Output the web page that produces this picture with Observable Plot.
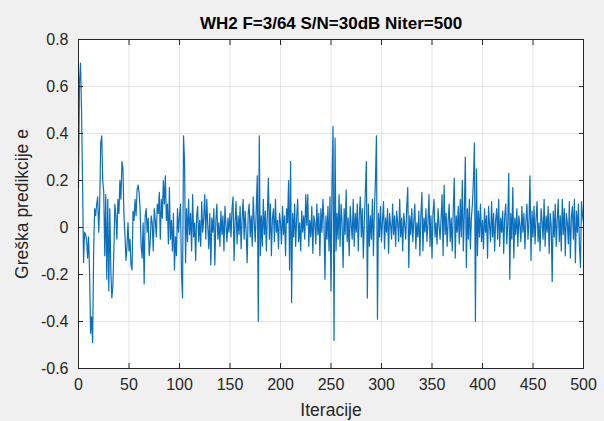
<!DOCTYPE html>
<html><head><meta charset="utf-8">
<script src="https://cdn.jsdelivr.net/npm/d3@7"></script>
<script src="https://cdn.jsdelivr.net/npm/@observablehq/plot@0.6"></script>
<style>
html,body{margin:0;padding:0;background:#f0f0f0;}
#chart{width:604px;height:421px;}
</style>
</head><body><div id="chart"></div>
<script>
const title = "WH2 F=3/64 S/N=30dB Niter=500";
const xLabel = "Iteracije";
const yLabel = "Greška predikcije e";
const xTicks = [0, 50, 100, 150, 200, 250, 300, 350, 400, 450, 500];
const yTicks = [-0.6, -0.4, -0.2, 0, 0.2, 0.4, 0.6, 0.8];
const errors = [
0.17, 0.62, 0.70, 0.50, 0.20, -0.15, -0.02, -0.03, -0.05, -0.13,
-0.04, -0.20, -0.45, -0.38, -0.49, -0.10, 0.08, 0.05, 0.10, 0.13,
-0.02, 0.10, 0.36, 0.39, 0.20, 0.15, -0.12, 0.14, -0.22, 0.12,
-0.27, 0.08, -0.18, -0.30, -0.25, -0.10, 0.10, 0.05, -0.05, 0.12,
0.06, 0.20, 0.12, 0.28, 0.25, 0.05, -0.03, -0.14, -0.08, 0.02,
-0.10, -0.05, -0.16, -0.18, 0.07, 0.03, 0.12, 0.05, 0.16, 0.18,
0.15, 0.08, -0.08, -0.13, 0.02, -0.24, 0.05, 0.08, -0.02, 0.04,
-0.12, -0.06, 0.05, 0.02, -0.10, 0.08, 0.03, -0.04, 0.10, 0.06,
0.15, -0.05, 0.12, 0.04, 0.20, 0.10, 0.22, 0.03, 0.10, -0.07,
0.17, -0.05, 0.03, -0.10, 0.06, -0.18, -0.04, -0.12, 0.08, -0.02,
0.05, 0.10, -0.20, -0.30, 0.39, 0.28, -0.15, 0.08, -0.06, 0.12,
-0.03, 0.06, -0.10, 0.14, -0.04, 0.02, -0.14, 0.05, 0.09, -0.06,
0.03, -0.08, 0.11, -0.02, 0.04, 0.14, -0.05, 0.12, 0.01, -0.09,
0.06, -0.16, 0.04, -0.02, 0.08, -0.16, 0.03, 0.10, -0.05, 0.02,
-0.08, 0.07, -0.03, 0.05, -0.10, 0.09, 0.01, -0.06, 0.04, -0.02,
0.06, -0.04, 0.08, 0.13, -0.14, 0.02, 0.11, -0.07, 0.05, -0.03,
0.09, -0.09, 0.04, 0.12, -0.05, 0.07, -0.02, -0.15, 0.06, 0.10,
-0.04, 0.05, -0.08, 0.13, 0.02, -0.06, 0.08, 0.22, -0.40, 0.39,
-0.12, 0.05, -0.08, 0.12, -0.03, 0.07, -0.10, 0.06, 0.21, -0.05,
0.10, -0.12, 0.04, 0.08, -0.06, 0.12, -0.02, 0.03, -0.09, 0.06,
0.02, -0.07, 0.09, -0.03, 0.05, -0.12, 0.08, 0.02, 0.20, -0.18,
0.28, -0.32, 0.06, -0.04, 0.10, -0.08, 0.04, 0.12, -0.06, 0.02,
-0.10, 0.07, -0.02, 0.05, -0.05, 0.14, 0.01, 0.14, -0.08, 0.03,
-0.04, 0.09, -0.11, 0.05, 0.02, -0.07, 0.10, -0.03, 0.06, -0.12,
0.08, -0.02, 0.12, 0.03, -0.22, 0.05, -0.05, 0.09, -0.10, 0.13,
-0.27, 0.18, 0.43, -0.48, 0.38, -0.10, 0.06, -0.05, 0.14, -0.08,
0.10, 0.02, -0.17, 0.08, -0.03, 0.16, -0.06, 0.04, -0.12, 0.09,
0.01, -0.05, 0.12, -0.08, 0.06, -0.02, 0.10, -0.10, 0.05, 0.13,
-0.04, 0.08, -0.13, 0.03, 0.15, 0.28, -0.30, 0.10, -0.08, 0.05,
-0.05, 0.12, -0.12, 0.08, 0.20, 0.39, -0.39, 0.06, -0.04, 0.09,
-0.06, 0.03, 0.11, -0.09, 0.04, -0.02, 0.08, -0.11, 0.06, 0.01,
-0.05, 0.10, -0.03, 0.05, -0.08, 0.07, 0.02, -0.06, 0.12, -0.04,
0.04, -0.10, 0.06, 0.01, -0.05, 0.09, 0.17, -0.17, 0.05, -0.03,
0.08, -0.06, 0.03, 0.10, -0.09, 0.02, -0.04, 0.07, -0.12, 0.05,
0.15, -0.10, 0.04, -0.02, 0.08, -0.06, 0.02, 0.14, -0.08, 0.05,
-0.13, 0.06, 0.12, -0.04, 0.02, -0.07, 0.08, 0.01, -0.05, 0.04,
0.14, -0.12, 0.18, -0.03, 0.06, -0.08, 0.03, 0.10, -0.06, 0.04,
-0.10, 0.07, 0.21, -0.13, 0.05, -0.02, 0.09, -0.07, 0.12, -0.04,
0.20, -0.10, 0.06, 0.30, -0.17, 0.08, -0.05, 0.12, -0.09, 0.04,
0.10, 0.20, 0.36, -0.40, 0.25, -0.12, 0.07, -0.04, 0.10, -0.06,
0.03, -0.09, 0.08, -0.02, 0.05, -0.13, 0.09, 0.01, -0.06, 0.11,
-0.04, 0.06, -0.10, 0.03, 0.08, -0.05, 0.12, -0.08, 0.04, -0.02,
0.07, -0.11, 0.05, 0.10, -0.07, 0.02, 0.23, -0.22, 0.06, -0.05,
0.17, -0.13, 0.04, -0.03, 0.08, -0.08, 0.05, 0.01, -0.06, 0.09,
-0.02, 0.06, -0.09, 0.03, 0.10, -0.05, 0.02, 0.22, -0.14, 0.07,
-0.04, 0.09, -0.07, 0.04, 0.11, -0.06, 0.02, -0.10, 0.08, 0.03,
-0.05, 0.12, -0.08, 0.05, -0.02, 0.09, -0.11, 0.06, 0.01, -0.23,
0.07, -0.04, 0.10, -0.08, 0.03, 0.12, -0.06, 0.05, -0.10, 0.12,
-0.03, 0.08, -0.12, 0.06, 0.02, -0.07, 0.11, -0.13, 0.04, 0.09,
-0.05, 0.12, -0.15, 0.07, -0.02, 0.10, -0.08, -0.17, 0.11, 0.05,
0.02
];
const data = errors.map((e, i) => ({iter: i, e}));
const fmtY = d => d === 0 ? "0" : d.toFixed(1);
const axisColor = "#262626";
const font = "'Liberation Sans', Arial, Helvetica, sans-serif";

const chart = Plot.plot({
  width: 604, height: 421,
  marginLeft: 78, marginRight: 21, marginTop: 39, marginBottom: 53,
  style: {background: "transparent", fontFamily: font, fontSize: "16px", color: axisColor},
  x: {domain: [0, 500]},
  y: {domain: [-0.6, 0.8]},
  marks: [
    Plot.frame({fill: "white", stroke: null}),
    Plot.gridX(xTicks, {stroke: "#000", strokeOpacity: 0.1}),
    Plot.gridY(yTicks, {stroke: "#000", strokeOpacity: 0.1}),
    Plot.line(data, {x: "iter", y: "e", stroke: "#0a6fbd", strokeWidth: 1.2}),
    Plot.frame({stroke: axisColor, strokeWidth: 1}),
    Plot.axisX(xTicks, {anchor: "bottom", tickSize: 5, dy: -5, tickFormat: () => "", label: null, stroke: axisColor}),
    Plot.axisX(xTicks, {anchor: "top", tickSize: 5, dy: 5, tickFormat: () => "", label: null, stroke: axisColor}),
    Plot.axisY(yTicks, {anchor: "left", tickSize: 5, dx: 5, tickFormat: () => "", label: null, stroke: axisColor}),
    Plot.axisY(yTicks, {anchor: "right", tickSize: 5, dx: -5, tickFormat: () => "", label: null, stroke: axisColor}),
    Plot.axisX(xTicks, {anchor: "bottom", tickSize: 0, tickPadding: 10, label: null, fill: axisColor, fontSize: 16}),
    Plot.axisY(yTicks, {anchor: "left", tickSize: 0, tickPadding: 10, tickFormat: fmtY, label: null, fill: axisColor, fontSize: 16}),
    Plot.text([title], {frameAnchor: "top", lineAnchor: "middle", textAnchor: "middle", dy: -16, text: d => d, fontWeight: "bold", fontSize: 17, fill: "#000"}),
    Plot.text([xLabel], {frameAnchor: "bottom", lineAnchor: "middle", textAnchor: "middle", dy: 42, text: d => d, fontSize: 17.5, fill: axisColor}),
    Plot.text([yLabel], {frameAnchor: "left", lineAnchor: "middle", textAnchor: "middle", dx: -56, rotate: -90, text: d => d, fontSize: 17.5, fill: axisColor})
  ]
});
document.getElementById("chart").appendChild(chart);
</script>
</body></html>
